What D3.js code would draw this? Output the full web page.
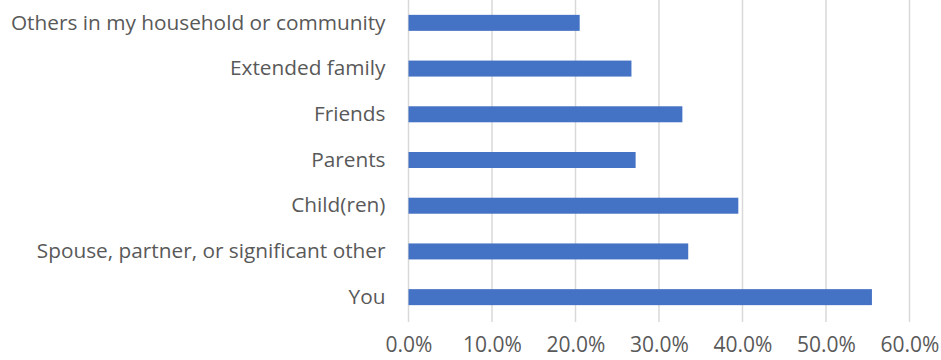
<!DOCTYPE html>
<html><head><meta charset="utf-8">
<script src="https://cdn.jsdelivr.net/npm/d3@7"></script>
<style>body{margin:0;background:#fff}svg{display:block}</style>
</head><body>
<svg id="c" width="941" height="360"></svg>
<script>
const categories = ["Others in my household or community","Extended family","Friends","Parents","Child(ren)","Spouse, partner, or significant other","You"];
const values = [0.205,0.267,0.328,0.272,0.395,0.335,0.555];
const xTicks = [0,0.1,0.2,0.3,0.4,0.5,0.6];

const svg = d3.select("#c");
const m = {left:408.5, right:941-909.5, top:0, bottom:40};
const W = 941, H = 360;
const x = d3.scaleLinear().domain([0,0.6]).range([m.left, W-m.right]);
const y = d3.scaleBand().domain(categories).range([m.top, 320]).paddingInner(0.65).paddingOuter(0.325);
const font = "Open Sans, sans-serif";

svg.append("g").selectAll("line").data(xTicks).join("line")
  .attr("x1", d=>x(d)).attr("x2", d=>x(d)).attr("y1", 0).attr("y2", 322)
  .attr("stroke", "#d9d9d9").attr("stroke-width", 1.5);

svg.append("g").selectAll("rect").data(values).join("rect")
  .attr("x", x(0)).attr("y", (d,i)=>y(categories[i]))
  .attr("width", d=>x(d)-x(0)).attr("height", y.bandwidth())
  .attr("fill", "#4472c4");

const xa = svg.append("g").attr("transform","translate(0,352)")
  .call(d3.axisBottom(x).tickValues(xTicks).tickFormat(d3.format(".1%")).tickSize(0).tickPadding(0));
xa.select(".domain").remove();
xa.selectAll("text").attr("font-family", font).attr("font-size", 21).attr("fill","#595959").attr("dy","0");

const ya = svg.append("g").attr("transform",`translate(${m.left},0)`)
  .call(d3.axisLeft(y).tickSize(0).tickPadding(23));
ya.select(".domain").remove();
ya.selectAll("text").attr("font-family", font).attr("font-size", 20.8).attr("fill","#595959");
</script>
</body></html>
